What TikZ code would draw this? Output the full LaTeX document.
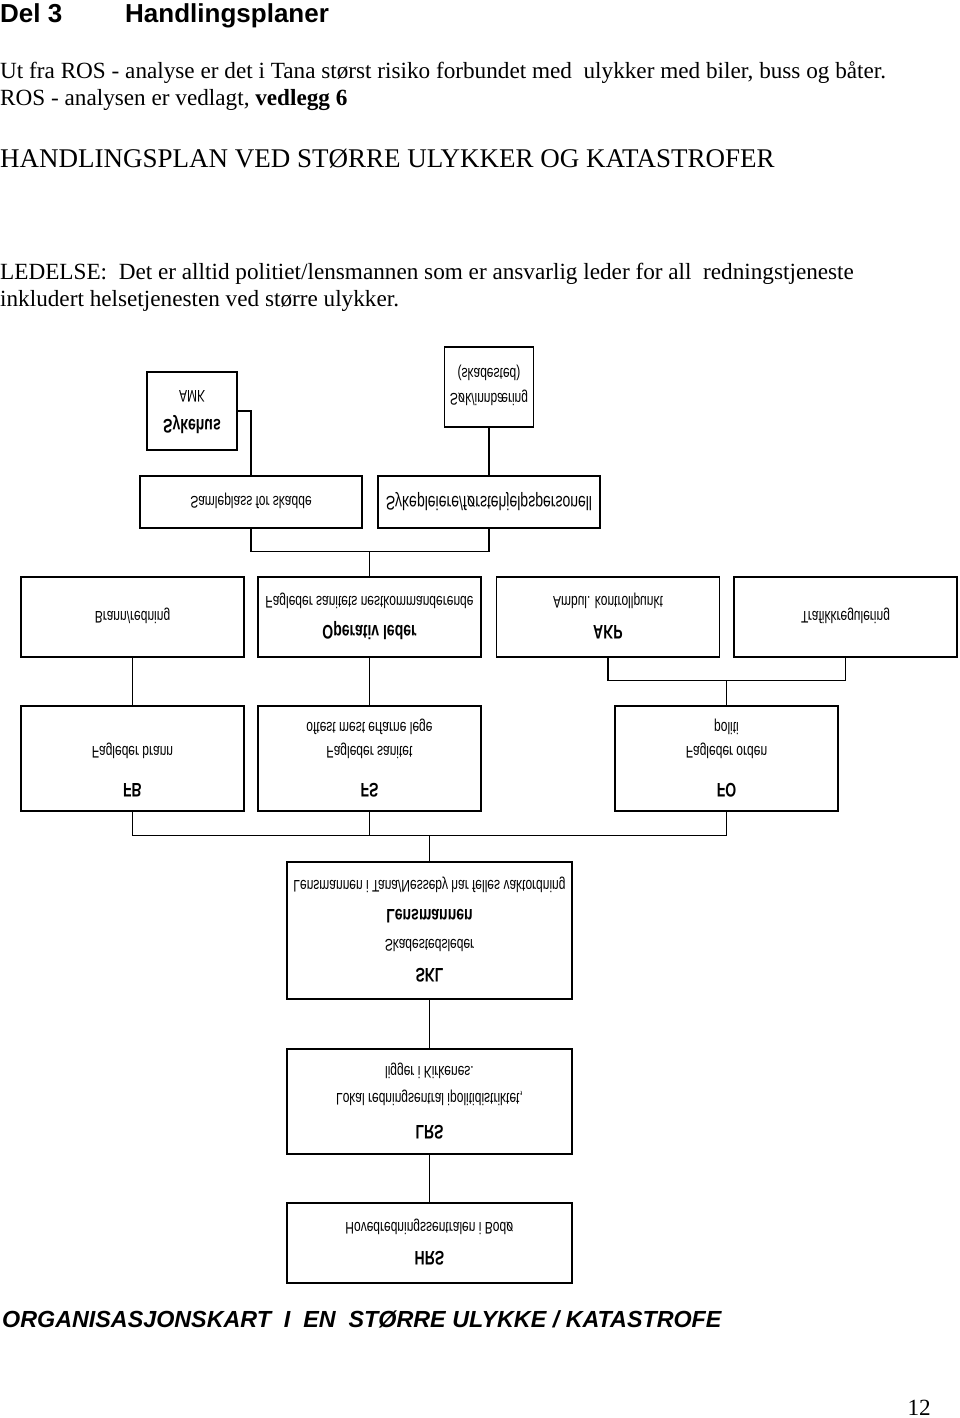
\documentclass[tikz,border=0pt]{standalone}
\usepackage{fontspec}
\setmainfont{Liberation Serif}
\setsansfont{Liberation Sans}
\usepackage{graphicx}
\usepackage{tikz}
\def\flip#1{\scalebox{1}[-1.4]{\begin{tabular}{@{}c@{}}#1\end{tabular}}}
\def\hd#1{{\fontsize{14}{16}\selectfont\bfseries #1}}

\begin{document}
\begin{tikzpicture}[x=1pt, y=-1pt]
			%%%%% START %%%%%
			\tikzset{
				orgbox/.style={draw, line width=1.6pt, inner sep=0pt, font=\sffamily\fontsize{12}{14}\selectfont},
				link/.style={line width=1.2pt},
				bodytext/.style={anchor=base west, inner sep=0pt, font=\fontsize{23.2}{27}\selectfont}
			}
			\renewcommand\arraystretch{1.5}
			\useasboundingbox (0,0) rectangle (960,1418);
			
			\node[bodytext, font=\sffamily\bfseries\fontsize{26}{30}\selectfont] (del) at (0,23) {Del 3};
			\node[bodytext, font=\sffamily\bfseries\fontsize{26}{30}\selectfont] (tittel) at (125,23) {Handlingsplaner};
			\node[bodytext] (ros1) at (0,79) {Ut fra ROS - analyse er det i Tana størst risiko forbundet med\ \ ulykker med biler, buss og båter.};
			\node[bodytext] (ros2) at (0,106) {ROS - analysen er vedlagt, \textbf{vedlegg 6}};
			\node[bodytext, font=\fontsize{27}{31}\selectfont] (plan) at (0,167) {HANDLINGSPLAN VED STØRRE ULYKKER OG KATASTROFER};
			\node[bodytext] (led1) at (0,279) {LEDELSE:\ \ Det er alltid politiet/lensmannen som er ansvarlig leder for all\ \ redningstjeneste};
			\node[bodytext] (led2) at (0,306) {inkludert helsetjenesten ved større ulykker.};
			
			% boxes, drawn upside down
			\node[orgbox, minimum width=90pt, minimum height=78pt] (sykehus) at (192,411) {\flip{\hd{Sykehus}\\AMK}};
			\node[orgbox, minimum width=89pt, minimum height=80pt] (sok) at (489,387) {\flip{Søk/innbæring\\[-3pt](skadested)}};
			
			\node[orgbox, minimum width=222pt, minimum height=52pt] (samle) at (251,502) {\flip{Samleplass for skadde}};
			\node[orgbox, minimum width=222pt, minimum height=52pt] (sykepl) at (489,502) {\flip{\fontsize{14}{16}\selectfont Sykepleiere/førstehjelpspersonell}};
			
			\node[orgbox, minimum width=223pt, minimum height=80pt] (brann) at (132.5,617) {\flip{Brann/redning}};
			\node[orgbox, minimum width=223pt, minimum height=80pt] (operativ) at (369.5,617) {\flip{\hd{Operativ leder}\\Fagleder sanitets nestkommanderende}};
			\node[orgbox, minimum width=223pt, minimum height=80pt] (akp) at (608,617) {\flip{\hd{AKP}\\Ambul. kontrollpunkt}};
			\node[orgbox, minimum width=223pt, minimum height=80pt] (trafikk) at (845.5,617) {\flip{Trafikkregulering}};
			
			\node[orgbox, minimum width=223pt, minimum height=105pt] (fb) at (132.5,758.5) {\flip{\hd{FB}\\[5pt]Fagleder brann\\[-3.5pt]~}};
			\node[orgbox, minimum width=223pt, minimum height=105pt] (fs) at (369.5,758.5) {\flip{\hd{FS}\\[5pt]Fagleder sanitet\\[-3.5pt]oftest mest erfarne lege}};
			\node[orgbox, minimum width=223pt, minimum height=105pt] (fo) at (726.5,758.5) {\flip{\hd{FO}\\[5pt]Fagleder orden\\[-3.5pt]politi}};
			
			\node[orgbox, minimum width=285pt, minimum height=137pt] (skl) at (429.5,930.5) {\flip{\hd{SKL}\\Skadestedsleder\\\hd{Lensmannen}\\Lensmannen i Tana/Nesseby har felles vaktordning}};
			\node[orgbox, minimum width=285pt, minimum height=105pt] (lrs) at (429.5,1101.5) {\flip{\hd{LRS}\\[1.5pt]Lokal redningsentral ipolitidistriktet,\\[-1.5pt]ligger i Kirkenes.}};
			\node[orgbox, minimum width=285pt, minimum height=80pt] (hrs) at (429.5,1243) {\flip{\hd{HRS}\\Hovedredningssentralen i Bodø}};
			
			% joints
			\path (operativ.north) ++(0,-25) coordinate (j1);
			\path (fo.north) ++(0,-25) coordinate (j2);
			\path (skl.north) ++(0,-26) coordinate (j3);
			
			\draw[link] (sykehus.east) -| (samle.north);
			\draw[link] (sok.south) -- (sykepl.north);
			\draw[link] (samle.south) |- (j1) -| (sykepl.south);
			\draw[link] (j1) -- (operativ.north);
			
			\draw[link] (brann.south) -- (fb.north);
			\draw[link] (operativ.south) -- (fs.north);
			\draw[link] (akp.south) |- (j2) -| (trafikk.south);
			\draw[link] (j2) -- (fo.north);
			
			\draw[link] (fb.south) |- (j3) -| (fo.south);
			\draw[link] (fs.south) -- (fs.south |- j3);
			\draw[link] (j3) -- (skl.north);
			\draw[link] (skl.south) -- (lrs.north);
			\draw[link] (lrs.south) -- (hrs.north);
			
			\node[bodytext, font=\sffamily\bfseries\itshape\fontsize{23.3}{27}\selectfont] (kart) at (2,1327) {ORGANISASJONSKART\ \ I\ \ EN\ \ STØRRE ULYKKE / KATASTROFE};
			\node[bodytext, anchor=base east] (side) at (931,1415) {12};
			%%%%% END %%%%%
\end{tikzpicture}
\end{document}
